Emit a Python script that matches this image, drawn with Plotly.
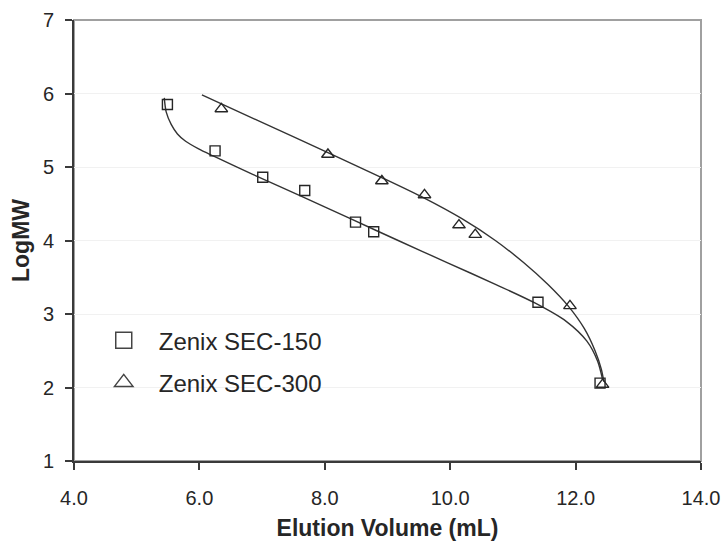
import plotly.graph_objects as go

# ---- data ----
sec150_vol = [5.49, 6.25, 7.01, 7.68, 8.49, 8.78, 11.40, 12.39]
sec150_logmw = [5.85, 5.22, 4.86, 4.68, 4.25, 4.12, 3.16, 2.06]
sec300_vol = [6.35, 8.05, 8.91, 9.59, 10.14, 10.40, 11.91, 12.43]
sec300_logmw = [5.79, 5.17, 4.81, 4.62, 4.21, 4.08, 3.11, 2.04]

# fitted calibration curves
sec150_fit_vol = [5.44, 5.47, 5.55, 5.65, 5.78, 5.98, 6.22, 6.85, 7.63, 8.40,
                  9.17, 9.95, 10.73, 11.35, 11.85, 12.18, 12.35, 12.43]
sec150_fit_logmw = [5.94, 5.75, 5.58, 5.45, 5.35, 5.25, 5.15, 4.90, 4.60, 4.30,
                    4.00, 3.70, 3.40, 3.15, 2.90, 2.63, 2.36, 2.11]
sec300_fit_vol = [6.04, 7.53, 8.95, 9.58, 10.18, 10.72, 11.17, 11.56, 11.89,
                  12.14, 12.31, 12.41, 12.45]
sec300_fit_logmw = [5.98, 5.40, 4.84, 4.58, 4.30, 4.00, 3.70, 3.40, 3.10,
                    2.80, 2.50, 2.25, 2.08]

x_ticks = [4.0, 6.0, 8.0, 10.0, 12.0, 14.0]
y_ticks = [1, 2, 3, 4, 5, 6, 7]

FONT = "Liberation Sans, Arial, sans-serif"
INK = "#262626"

fig = go.Figure()

for fx, fy in [(sec150_fit_vol, sec150_fit_logmw), (sec300_fit_vol, sec300_fit_logmw)]:
    fig.add_trace(go.Scatter(x=fx, y=fy, mode="lines",
                             line=dict(color="#333333", width=1.4, shape="spline", smoothing=0.8),
                             showlegend=False, hoverinfo="skip"))

fig.add_trace(go.Scatter(x=sec150_vol, y=sec150_logmw, mode="markers",
                         name="Zenix SEC-150", showlegend=False,
                         marker=dict(symbol="square-open", size=10,
                                     color=INK, line=dict(width=1.4))))
fig.add_trace(go.Scatter(x=sec300_vol, y=sec300_logmw, mode="markers",
                         name="Zenix SEC-300", showlegend=False,
                         marker=dict(symbol="triangle-up-open", size=11,
                                     color=INK, line=dict(width=1.4))))

# legend entries (larger symbols, as in the reference legend)
fig.add_trace(go.Scatter(x=[None], y=[None], mode="markers", name="Zenix SEC-150",
                         legendgroup="a",
                         marker=dict(symbol="square-open", size=16, color="#444444",
                                     line=dict(width=1.5))))
fig.add_trace(go.Scatter(x=[None], y=[None], mode="markers", name="Zenix SEC-300",
                         legendgroup="b",
                         marker=dict(symbol="triangle-up-open", size=16, color="#444444",
                                     line=dict(width=1.5))))

# light frame of the plot area (top / right)
fig.add_shape(type="rect", xref="x domain", yref="y domain", x0=0, x1=1, y0=0, y1=1,
              line=dict(color="#a0a0a0", width=2), layer="below")

fig.update_layout(
    width=724, height=543,
    margin=dict(l=74, r=23, t=20, b=82, autoexpand=False),
    paper_bgcolor="white", plot_bgcolor="white",
    font=dict(family=FONT, color=INK, size=20),
    showlegend=True,
    legend=dict(x=0.0235, y=0.324, xanchor="left", yanchor="top",
                bgcolor="rgba(0,0,0,0)", font=dict(size=24, color=INK),
                tracegroupgap=8, itemwidth=60),
)
fig.update_xaxes(range=[4, 14], tickvals=x_ticks, tickformat=".1f",
                 showgrid=False, zeroline=False, automargin=False,
                 showline=True, linecolor="#3a3a3a", linewidth=2,
                 ticks="outside", ticklen=7, tickcolor="#3a3a3a", tickwidth=1.5,
                 tickfont=dict(size=20, color=INK), ticklabelstandoff=11,
                 title=dict(text="<b>Elution Volume (mL)</b>", font=dict(size=23), standoff=12))
fig.update_yaxes(range=[1, 7], tickvals=y_ticks,
                 showgrid=True, gridcolor="#f1f1f1", gridwidth=1, zeroline=False,
                 automargin=False,
                 showline=True, linecolor="#3a3a3a", linewidth=2,
                 ticks="outside", ticklen=7, tickcolor="#3a3a3a", tickwidth=1.5,
                 tickfont=dict(size=20, color=INK), ticklabelstandoff=7,
                 title=dict(text="<b>LogMW</b>", font=dict(size=23), standoff=7))

fig.write_html("out.html")
